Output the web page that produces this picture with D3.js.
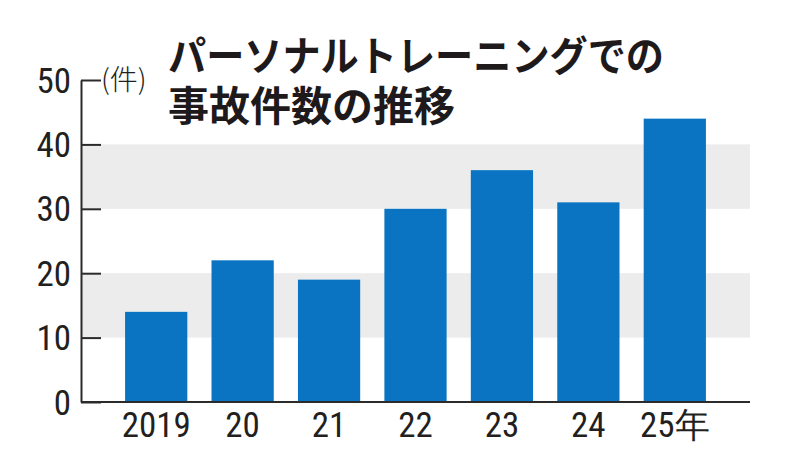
<!DOCTYPE html>
<html>
<head>
<meta charset="utf-8">
<script src="https://cdn.jsdelivr.net/npm/d3@7"></script>
<style>
  body { margin: 0; background: #fff; }
  svg { display: block; }
</style>
</head>
<body>
<svg id="chart" width="800" height="471"></svg>
<script>
// data
var years = ['2019', '20', '21', '22', '23', '24', '25年']
var accidents = [14, 22, 19, 30, 36, 31, 44]
var yTicks = [0, 10, 20, 30, 40, 50]
var bands = [[10, 20], [30, 40]]
var titleLines = ['パーソナルトレーニングでの', '事故件数の推移']
var unitLabel = '(件)'

var svg = d3.select('#chart'),
  plotLeft = 81, plotRight = 750, plotBottom = 402, plotTop = 80

var x = d3.scaleBand()
  .domain(years)
  .range([plotLeft, plotRight])
  .paddingInner(0.28)
  .paddingOuter(0.51)

var y = d3.scaleLinear()
  .domain([0, 50])
  .range([plotBottom, plotTop])

var numFont = '"Liberation Sans Narrow", "Roboto Condensed", "DejaVu Sans Condensed", sans-serif'
var jpFont = '"Noto Sans CJK JP", sans-serif'

// grey bands
svg.append('g')
  .selectAll('rect')
  .data(bands)
  .enter().append('rect')
  .attr('x', plotLeft + 1)
  .attr('width', plotRight - plotLeft - 1)
  .attr('y', function(d) { return y(d[1]) })
  .attr('height', function(d) { return y(d[0]) - y(d[1]) })
  .attr('fill', '#ececec')

// bars
svg.append('g')
  .selectAll('rect')
  .data(accidents)
  .enter().append('rect')
  .attr('x', function(d, i) { return x(years[i]) })
  .attr('width', x.bandwidth())
  .attr('y', function(d) { return y(d) })
  .attr('height', function(d) { return y(0) - y(d) })
  .attr('fill', '#0a74c2')

// y axis
var yAxis = svg.append('g')
  .attr('transform', 'translate(' + plotLeft + ',0)')
  .call(d3.axisRight(y).tickValues(yTicks).tickSize(20).tickSizeOuter(0).tickFormat(''))
yAxis.select('.domain').attr('stroke', '#2b2b2b').attr('stroke-width', 2)
yAxis.selectAll('.tick line').attr('stroke', '#2b2b2b').attr('stroke-width', 2)

svg.append('g')
  .selectAll('text')
  .data(yTicks)
  .enter().append('text')
  .attr('x', 71)
  .attr('y', function(d) { return y(d) + 12.5 })
  .attr('text-anchor', 'end')
  .attr('font-family', numFont)
  .attr('font-size', 35)
  .attr('fill', '#231f20')
  .text(function(d) { return d })

// baseline
svg.append('line')
  .attr('x1', plotLeft)
  .attr('x2', plotRight)
  .attr('y1', y(0))
  .attr('y2', y(0))
  .attr('stroke', '#2b2b2b')
  .attr('stroke-width', 2)

// x labels
svg.append('g')
  .selectAll('text')
  .data(years)
  .enter().append('text')
  .attr('x', function(d) { return x(d) + x.bandwidth() / 2 })
  .attr('y', 437)
  .attr('text-anchor', 'middle')
  .attr('font-family', numFont)
  .attr('font-size', 35)
  .attr('fill', '#231f20')
  .text(function(d) { return d })

// unit
svg.append('text')
  .attr('x', 101)
  .attr('y', 90)
  .attr('font-family', jpFont)
  .attr('font-weight', 300)
  .attr('font-size', 28)
  .attr('fill', '#231f20')
  .text(unitLabel)

// title
svg.append('text')
  .attr('x', 168)
  .attr('y', 71)
  .attr('font-family', jpFont)
  .attr('font-weight', 'bold')
  .attr('font-size', 41)
  .attr('fill', '#1e1a1b')
  .attr('textLength', 496)
  .attr('lengthAdjust', 'spacingAndGlyphs')
  .text(titleLines[0])

svg.append('text')
  .attr('x', 168)
  .attr('y', 121)
  .attr('font-family', jpFont)
  .attr('font-weight', 'bold')
  .attr('font-size', 41)
  .attr('fill', '#1e1a1b')
  .text(titleLines[1])
</script>
</body>
</html>
